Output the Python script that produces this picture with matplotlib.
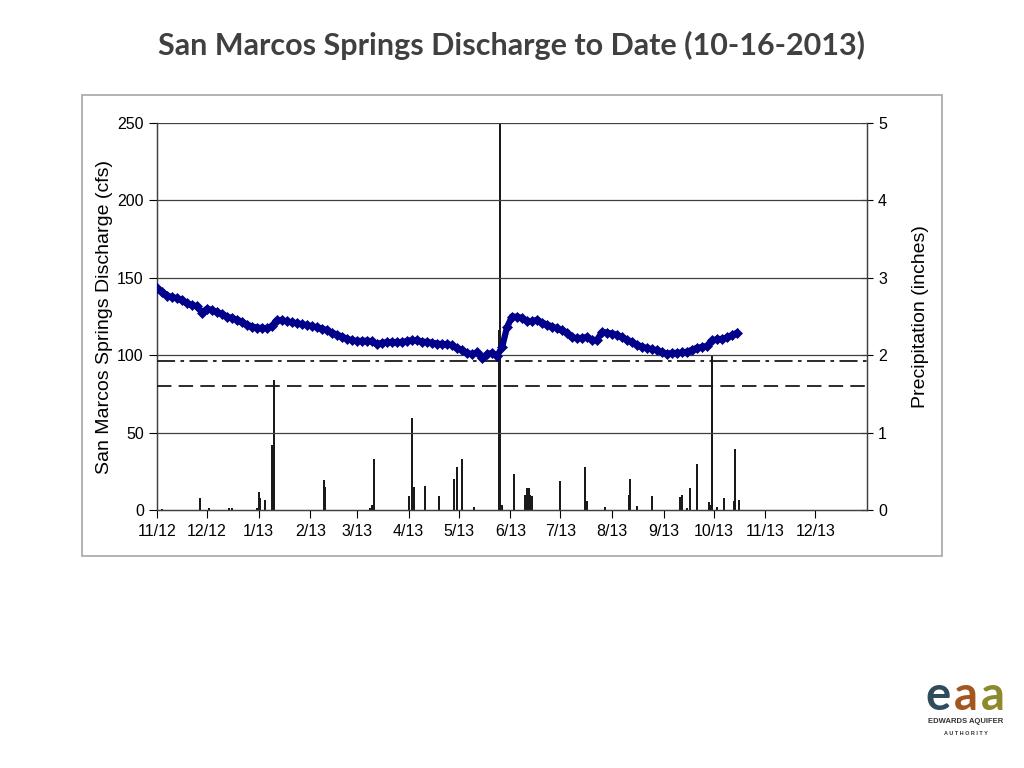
import matplotlib
matplotlib.use("Agg")
import matplotlib.pyplot as plt
from matplotlib.patches import Rectangle
import numpy as np

# Discharge, read every 3 days from 11/1/2012 to 10/15/2013 (cfs)
flow_start = np.datetime64("2012-11-01")
flow_step_days = 3
discharge = [
    143.4, 140.8, 138.5, 137.5, 136.8, 135.6, 133.5, 132.2, 131.8, 127.5,
    130.0, 129.0, 127.8, 126.6, 125.0, 124.0, 122.9, 121.5, 119.8, 118.5,
    117.8, 117.6, 117.4, 119.0, 122.7, 122.5, 121.8, 121.2, 120.5, 120.0,
    119.4, 118.7, 118.0, 117.2, 116.0, 114.6, 113.2, 112.0, 110.6, 109.6,
    109.2, 109.2, 109.4, 109.0, 107.3, 108.0, 108.4, 108.5, 108.3, 108.6,
    109.0, 109.8, 109.5, 108.8, 108.5, 108.0, 107.5, 107.2, 107.0, 106.5,
    104.5, 103.4, 101.5, 100.5, 101.8, 98.5, 100.5, 101.5, 99.5, 105.0,
    118.0, 125.0, 124.8, 124.0, 122.0, 122.0, 122.7, 121.0, 119.8, 118.5,
    117.3, 116.0, 114.5, 111.5, 111.0, 111.2, 111.8, 110.0, 109.8, 115.0,
    114.5, 114.0, 113.2, 111.5, 110.0, 108.5, 106.8, 105.5, 104.5, 103.8,
    103.2, 102.0, 100.8, 101.5, 101.4, 101.8, 102.2, 103.5, 104.8, 105.2,
    106.0, 109.5, 110.3, 110.5, 111.5, 113.0, 114.5,
]

# Daily precipitation (inches)
rain_dates = [
    "2012-11-04", "2012-11-27", "2012-12-02", "2012-12-14", "2012-12-16",
    "2012-12-31", "2013-01-01", "2013-01-02", "2013-01-05", "2013-01-09",
    "2013-01-10", "2013-02-09", "2013-02-10", "2013-03-09", "2013-03-10",
    "2013-03-11", "2013-04-01", "2013-04-03", "2013-04-04", "2013-04-11",
    "2013-04-19", "2013-04-28", "2013-04-30", "2013-05-03", "2013-05-10",
    "2013-05-25", "2013-05-26", "2013-05-27", "2013-06-03", "2013-06-10",
    "2013-06-11", "2013-06-12", "2013-06-13", "2013-06-14", "2013-07-01",
    "2013-07-16", "2013-07-17", "2013-07-28", "2013-08-11", "2013-08-12",
    "2013-08-16", "2013-08-25", "2013-09-11", "2013-09-12", "2013-09-15",
    "2013-09-17", "2013-09-21", "2013-09-28", "2013-09-29", "2013-09-30",
    "2013-10-03", "2013-10-07", "2013-10-13", "2013-10-14", "2013-10-16",
]
rain_inches = [
    0.01, 0.15, 0.03, 0.02, 0.03,
    0.02, 0.23, 0.15, 0.13, 0.84,
    1.68, 0.39, 0.30, 0.03, 0.07,
    0.66, 0.18, 1.19, 0.30, 0.31,
    0.18, 0.40, 0.56, 0.66, 0.04,
    2.32, 5.50, 0.07, 0.47, 0.20,
    0.29, 0.29, 0.20, 0.18, 0.37,
    0.56, 0.11, 0.04, 0.19, 0.40,
    0.05, 0.18, 0.17, 0.20, 0.02,
    0.28, 0.60, 0.10, 0.07, 2.00,
    0.04, 0.16, 0.12, 0.79, 0.13,
]

stage_lines = [96, 80]  # dash-dot, dashed
month_ticks = ["2012-%02d-01" % m for m in (11, 12)] + ["2013-%02d-01" % m for m in range(1, 13)]

title = "San Marcos Springs Discharge to Date (10-16-2013)"
left_label = "San Marcos Springs Discharge (cfs)"
right_label = "Precipitation (inches)"

flow_dates = flow_start + np.arange(len(discharge)) * np.timedelta64(flow_step_days, "D")
flow_dates = flow_dates.astype("datetime64[D]").astype(object)
rain_dt = np.array(rain_dates, dtype="datetime64[D]").astype(object)
tick_dt = np.array(month_ticks, dtype="datetime64[D]").astype(object)

plt.rcParams["font.family"] = ["Liberation Sans", "DejaVu Sans"]

fig = plt.figure(figsize=(10.24, 7.68), dpi=100)
fig.patch.set_facecolor("white")

# Chart frame
fig.patches.append(Rectangle((82 / 1024, 1 - 556 / 768), 860 / 1024, 461 / 768,
                             transform=fig.transFigure, fill=False,
                             edgecolor="#a6a6a6", linewidth=1.2))

fig.text(0.5, 1 - 45 / 768, title, ha="center", va="center",
         fontsize=22, fontweight="bold", color="#404040", family=["Lato", "DejaVu Sans"])

ax = fig.add_axes([157 / 1024, 1 - 510 / 768, 710 / 1024, 387 / 768])
ax2 = ax.twinx()

# precipitation bars on the right axis, behind the discharge
ax2.bar(rain_dt, rain_inches, width=1.2, color="#1a1a1a", zorder=2)
ax2.set_ylim(0, 5)
ax2.set_yticks(range(0, 6))
ax2.set_ylabel(right_label, fontsize=14, labelpad=18)
ax2.tick_params(axis="y", direction="inout", length=8, labelsize=11.5, pad=4)

for y in (50, 100, 150, 200, 250):
    ax.axhline(y, color="#404040", linewidth=0.9, zorder=1)
ax.axhline(stage_lines[0], color="#1a1a1a", linewidth=1.3, linestyle=(0, (10, 3, 2, 3)), zorder=3)
ax.axhline(stage_lines[1], color="#1a1a1a", linewidth=1.3, linestyle=(0, (8, 4)), zorder=3)

ax.plot(flow_dates, discharge, color="#00008b", linewidth=4.5, marker="D",
        markersize=5.5, markeredgewidth=0.5, zorder=5)

ax.set_ylim(0, 250)
ax.set_yticks(range(0, 251, 50))
ax.set_xlim(np.datetime64("2012-11-01").astype(object), np.datetime64("2014-01-01").astype(object))
ax.set_xticks(tick_dt)
ax.set_xticklabels(["%d/%s" % (d.month, d.strftime("%y")) for d in tick_dt])
ax.set_ylabel(left_label, fontsize=14, labelpad=3)
ax.tick_params(axis="y", direction="out", length=6, labelsize=11.5)
ax.tick_params(axis="x", direction="out", length=6, labelsize=11.5, pad=4)

# draw discharge above the bars
ax.set_zorder(ax2.get_zorder() + 1)
ax.patch.set_visible(False)

for a in (ax, ax2):
    a.spines["top"].set_visible(False)
    for s in ("left", "right", "bottom"):
        a.spines[s].set_color("#404040")
        a.spines[s].set_linewidth(0.9)

# small Edwards Aquifer Authority logo
fig.text(0.916, 0.075, "e", fontsize=34, fontweight="bold", color="#2f4b5c", ha="center",
         family=["Lato", "DejaVu Sans"])
fig.text(0.943, 0.075, "a", fontsize=34, fontweight="bold", color="#a3561e", ha="center",
         family=["Lato", "DejaVu Sans"])
fig.text(0.970, 0.075, "a", fontsize=34, fontweight="bold", color="#8c8a2c", ha="center",
         family=["Lato", "DejaVu Sans"])
fig.text(0.943, 0.058, "EDWARDS AQUIFER", fontsize=5.5, fontweight="bold", color="#333333",
         ha="center")
fig.text(0.943, 0.043, "A U T H O R I T Y", fontsize=4, fontweight="bold", color="#333333",
         ha="center")

fig.savefig("out.png", dpi=100)
